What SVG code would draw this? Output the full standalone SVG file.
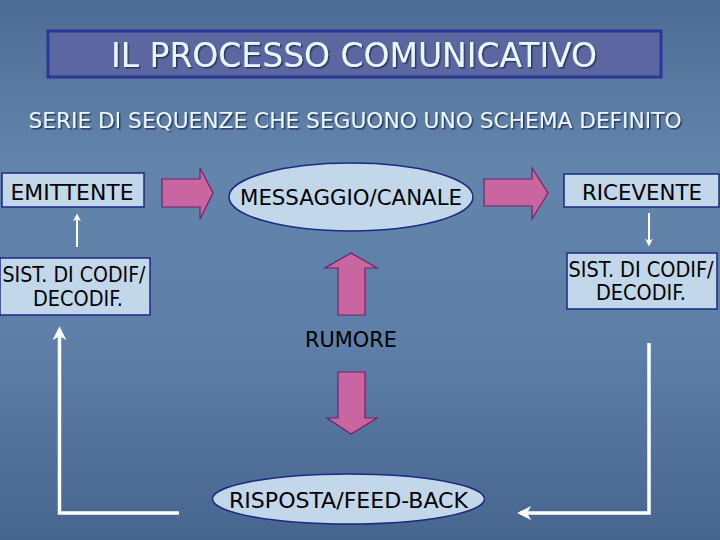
<svg xmlns="http://www.w3.org/2000/svg" width="720" height="540" viewBox="0 0 720 540">
<style>
.t{font-family:"DejaVu Sans Condensed","DejaVu Sans",sans-serif;}
.box{fill:#c3d7ea;stroke:#1c2a80;stroke-width:1.5;}
.pink{fill:#c9659f;stroke:#6e2270;stroke-width:1.2;}
.lbl{font-size:21px;fill:#000;text-anchor:middle;}
.wl{stroke:#ffffff;fill:none;}
.hl{fill:#e8f8ff;filter:url(#ds);}
</style>
<defs>
<linearGradient id="bg" x1="0" y1="0" x2="0" y2="1">
<stop offset="0" stop-color="#4d6c95"/>
<stop offset="0.3" stop-color="#6384ab"/>
<stop offset="0.65" stop-color="#5d7ea6"/>
<stop offset="1" stop-color="#46658f"/>
</linearGradient>
<filter id="ds" x="-5%" y="-20%" width="110%" height="150%">
<feDropShadow dx="1.5" dy="1.5" stdDeviation="0.4" flood-color="#26305a" flood-opacity="0.9"/>
</filter>
<marker id="ah" viewBox="0 0 10 10" refX="8" refY="5" markerWidth="4" markerHeight="4" orient="auto" markerUnits="strokeWidth">
<path d="M0,0 L10,5 L0,10 L3,5 Z" fill="#ffffff"/>
</marker>
</defs>
<rect width="720" height="540" fill="url(#bg)"/>

<g id="title">
<rect x="48" y="31" width="613" height="46" fill="#5c67a2" stroke="#2c3696" stroke-width="3"/>
<text class="t hl" x="354" y="67" font-size="33" text-anchor="middle" textLength="486" lengthAdjust="spacingAndGlyphs">IL PROCESSO COMUNICATIVO</text>
</g>

<g id="subtitle">
<text class="t hl" x="355" y="128" font-size="21" text-anchor="middle" textLength="653" lengthAdjust="spacingAndGlyphs">SERIE DI SEQUENZE CHE SEGUONO UNO SCHEMA DEFINITO</text>
</g>

<g id="emittente">
<rect class="box" x="2" y="173" width="142" height="34"/>
<text class="t lbl" x="72" y="200" textLength="123" lengthAdjust="spacingAndGlyphs">EMITTENTE</text>
</g>

<g id="messaggio">
<ellipse class="box" cx="351" cy="197" rx="122" ry="34"/>
<text class="t lbl" x="351" y="205" textLength="222" lengthAdjust="spacingAndGlyphs">MESSAGGIO/CANALE</text>
</g>

<g id="ricevente">
<rect class="box" x="564" y="174" width="155" height="33"/>
<text class="t lbl" x="642" y="200" textLength="120" lengthAdjust="spacingAndGlyphs">RICEVENTE</text>
</g>

<g id="sist-left">
<rect class="box" x="0" y="258" width="150" height="57"/>
<text class="t lbl" x="74" y="282" textLength="143" lengthAdjust="spacingAndGlyphs">SIST. DI CODIF/</text>
<text class="t lbl" x="78" y="306" textLength="90" lengthAdjust="spacingAndGlyphs">DECODIF.</text>
</g>

<g id="sist-right">
<rect class="box" x="567" y="253" width="150" height="56"/>
<text class="t lbl" x="641" y="277" textLength="145" lengthAdjust="spacingAndGlyphs">SIST. DI CODIF/</text>
<text class="t lbl" x="641" y="300" textLength="90" lengthAdjust="spacingAndGlyphs">DECODIF.</text>
</g>

<g id="rumore">
<text class="t lbl" x="351" y="347" textLength="92" lengthAdjust="spacingAndGlyphs">RUMORE</text>
</g>

<g id="risposta">
<ellipse class="box" cx="348.5" cy="499" rx="136" ry="25"/>
<text class="t lbl" x="348.5" y="508" textLength="239" lengthAdjust="spacingAndGlyphs">RISPOSTA/FEED-BACK</text>
</g>

<g id="connectors">
<path class="pink" d="M162,179 H200 V168 L213,193 L200,219 V207 H162 Z"/>
<path class="pink" d="M484,179 H532 V168 L548,193 L532,219 V206 H484 Z"/>
<path class="pink" d="M338,315 V268 H325 L351,253 L377,268 H365 V315 Z"/>
<path class="pink" d="M338,372 H365 V418 H377 L351,434 L327,418 H338 Z"/>
<path class="wl" stroke-width="2" d="M77,247 V215" marker-end="url(#ah)"/>
<path class="wl" stroke-width="2" d="M649,213 V245" marker-end="url(#ah)"/>
<path class="wl" stroke-width="3.5" d="M179,513 H59.5 V329" marker-end="url(#ah)"/>
<path class="wl" stroke-width="3.5" d="M649,343 V513 H520" marker-end="url(#ah)"/>
</g>
</svg>
